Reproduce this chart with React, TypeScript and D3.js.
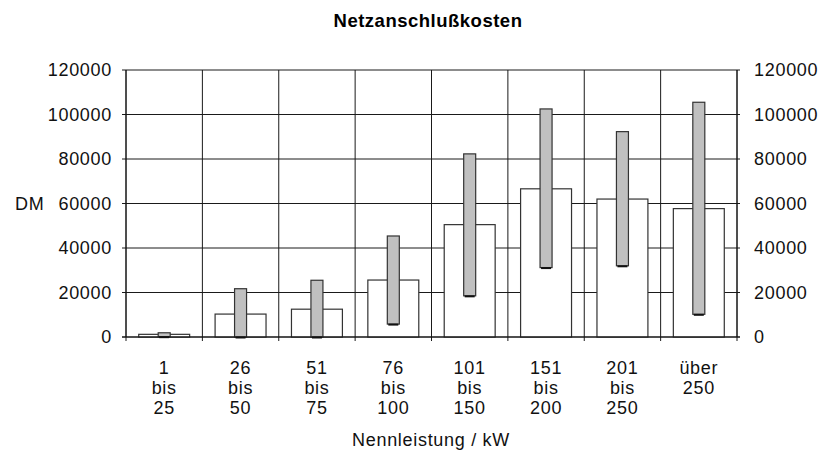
import * as d3 from "d3";
import { useEffect, useRef } from "react";

const width = 819;
const height = 451;
const margin = { top: 70, bottom: 114, left: 126, right: 82 };

// Nennleistung classes (kW), one label line per entry
const categories = ["1-25", "26-50", "51-75", "76-100", "101-150", "151-200", "201-250", "250+"];
const categoryLines = [
	["1", "bis", "25"],
	["26", "bis", "50"],
	["51", "bis", "75"],
	["76", "bis", "100"],
	["101", "bis", "150"],
	["151", "bis", "200"],
	["201", "bis", "250"],
	["über", "250"]
];

// average cost (DM) and range min / max
const meanCost = [1200, 10300, 12500, 25600, 50500, 66600, 62000, 57700];
const minCost = [150, 0, 0, 5800, 18500, 31200, 32000, 10200];
const maxCost = [1900, 21700, 25500, 45400, 82300, 102500, 92300, 105500];

const yTicks = [0, 20000, 40000, 60000, 80000, 100000, 120000];

const font = "'Liberation Sans', Arial, sans-serif";

const App = () => {
	const chartRef = useRef<SVGSVGElement | null>(null);

	useEffect(() => {
		const svg = d3.select(chartRef.current);
		svg.selectAll("*").remove();

		const boundsWidth = width - margin.left - margin.right;
		const boundsHeight = height - margin.top - margin.bottom;

		const scaleX = d3.scaleBand().domain(categories).range([0, boundsWidth]).padding(0);
		const scaleY = d3.scaleLinear().domain([0, 120000]).range([boundsHeight, 0]);
		const bw = scaleX.bandwidth();
		const barW = bw * 0.667;
		const rangeW = 12;

		svg
			.append("text")
			.attr("x", 428)
			.attr("y", 27)
			.attr("text-anchor", "middle")
			.style("font-family", font)
			.style("font-size", "18.5px")
			.style("font-weight", "bold")
			.style("letter-spacing", "0.5px")
			.text("Netzanschlußkosten");

		const g = svg.append("g").attr("transform", `translate(${margin.left}, ${margin.top})`);

		// horizontal grid
		g.selectAll(".hgrid")
			.data(yTicks)
			.enter()
			.append("line")
			.attr("x1", -4)
			.attr("x2", boundsWidth + 3)
			.attr("y1", d => scaleY(d))
			.attr("y2", d => scaleY(d))
			.attr("stroke", "#1a1a1a")
			.attr("stroke-width", 1);

		// vertical grid at category boundaries
		const bounds = categories.map(c => scaleX(c) as number).concat([boundsWidth]);
		g.selectAll(".vgrid")
			.data(bounds)
			.enter()
			.append("line")
			.attr("x1", d => d)
			.attr("x2", d => d)
			.attr("y1", 0)
			.attr("y2", boundsHeight + 4)
			.attr("stroke", "#1a1a1a")
			.attr("stroke-width", 1);

		// mean bars
		g.selectAll(".bar")
			.data(categories)
			.enter()
			.append("rect")
			.attr("x", d => (scaleX(d) as number) + (bw - barW) / 2)
			.attr("y", (d, i) => scaleY(meanCost[i]))
			.attr("width", barW)
			.attr("height", (d, i) => boundsHeight - scaleY(meanCost[i]))
			.attr("fill", "#ffffff")
			.attr("stroke", "#333333")
			.attr("stroke-width", 1.2);

		// min-max range bars
		g.selectAll(".range")
			.data(categories)
			.enter()
			.append("rect")
			.attr("x", d => (scaleX(d) as number) + (bw - rangeW) / 2)
			.attr("y", (d, i) => scaleY(maxCost[i]))
			.attr("width", rangeW)
			.attr("height", (d, i) => scaleY(minCost[i]) - scaleY(maxCost[i]))
			.attr("fill", "#c0c0c0")
			.attr("stroke", "#333333")
			.attr("stroke-width", 1.2);

		g.selectAll(".low")
			.data(categories)
			.enter()
			.append("line")
			.attr("x1", d => (scaleX(d) as number) + (bw - rangeW) / 2 + 1)
			.attr("x2", d => (scaleX(d) as number) + (bw + rangeW) / 2 - 1)
			.attr("y1", (d, i) => scaleY(minCost[i]) + 0.5)
			.attr("y2", (d, i) => scaleY(minCost[i]) + 0.5)
			.attr("stroke", "#111111")
			.attr("stroke-width", 2);

		// axis lines
		g.append("line")
			.attr("x1", 0).attr("x2", 0).attr("y1", 0).attr("y2", boundsHeight)
			.attr("stroke", "#111111");
		g.append("line")
			.attr("x1", boundsWidth).attr("x2", boundsWidth).attr("y1", 0).attr("y2", boundsHeight)
			.attr("stroke", "#111111");
		g.append("line")
			.attr("x1", -4).attr("x2", boundsWidth + 3).attr("y1", boundsHeight).attr("y2", boundsHeight)
			.attr("stroke", "#111111");

		const tickText = (sel: any) => sel
			.style("font-family", font)
			.style("font-size", "18px")
			.style("letter-spacing", "0.7px")
			.attr("fill", "#111111");

		// y labels, both sides
		g.selectAll(".ylab")
			.data(yTicks)
			.enter()
			.append("text")
			.attr("x", -14)
			.attr("y", d => scaleY(d) + 6)
			.attr("text-anchor", "end")
			.text(d => String(d))
			.call(tickText);

		g.selectAll(".ylabR")
			.data(yTicks)
			.enter()
			.append("text")
			.attr("x", boundsWidth + 17)
			.attr("y", d => scaleY(d) + 6)
			.attr("text-anchor", "start")
			.text(d => String(d))
			.call(tickText);

		// x labels
		categories.forEach((c, i) => {
			const cx = (scaleX(c) as number) + bw / 2;
			categoryLines[i].forEach((line, j) => {
				g.append("text")
					.attr("x", cx)
					.attr("y", boundsHeight + 37 + j * 20)
					.attr("text-anchor", "middle")
					.text(line)
					.call(tickText);
			});
		});

		svg.append("text")
			.attr("x", 15)
			.attr("y", 210)
			.text("DM")
			.call(tickText);

		svg.append("text")
			.attr("x", 431)
			.attr("y", 446)
			.attr("text-anchor", "middle")
			.text("Nennleistung / kW")
			.call(tickText);
	}, []);

	return (
		<svg
			ref={chartRef}
			width={width}
			height={height}
			style={{ position: "absolute", left: 0, top: 0, background: "#ffffff" }}
		/>
	);
};

export default App;
